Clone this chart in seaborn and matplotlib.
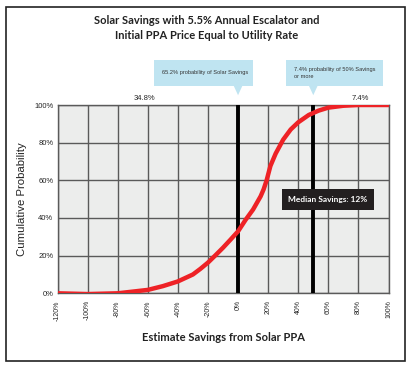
import matplotlib
matplotlib.use("Agg")
import matplotlib.pyplot as plt
import matplotlib.patches as mpatches
import seaborn as sns
import pandas as pd
import numpy as np

# values
savings = [-120, -100, -80, -70, -60, -50, -40, -30, -25, -20, -15, -10, -5, 0,
           5, 10, 15, 17, 19, 21.5, 25, 30, 35, 40, 47, 53.5, 60, 70, 80, 100]
cum_prob = [0, -0.4, 0, 0.9, 1.8, 3.8, 6.3, 10.0, 13.0, 16.3, 20.2, 24.2, 28.5, 32.9,
            39.0, 44.5, 51.5, 55.2, 60.0, 67.6, 74.2, 81.6, 87.0, 90.8, 94.7, 97.0,
            98.6, 99.6, 100, 100]
x_ticks = list(range(-120, 101, 20))
y_ticks = list(range(0, 101, 20))
marker_lines = [0, 50]
median_text = "Median Savings: 12%"
left_pct = "34.8%"
right_pct = "7.4%"
callout_1 = "65.2% probability of Solar Savings"
callout_2 = "7.4% probability of 50% Savings\nor more"

df = pd.DataFrame({"Savings": savings, "Probability": cum_prob})

sns.set_style("white")
plt.rcParams["font.family"] = ["Lato", "DejaVu Sans"]

fig = plt.figure(figsize=(4.13, 3.69), dpi=100)
fig.patches.append(mpatches.Rectangle((6 / 413, 1 - 361 / 369), 399 / 413, 354 / 369,
                                      transform=fig.transFigure, fill=False,
                                      edgecolor="#222222", linewidth=1.2))
ax = fig.add_axes([57.5 / 413, 1 - 293.3 / 369, 331 / 413, 188.3 / 369])
ax.set_facecolor("#ecedec")

sns.lineplot(data=df, x="Savings", y="Probability", ax=ax, color="#ee2226",
             linewidth=3.2, zorder=4, solid_joinstyle="round")
for xv in marker_lines:
    ax.axvline(xv, color="black", linewidth=2.8, zorder=3)

ax.set_xlim(-120, 100)
ax.set_ylim(0, 100)
ax.set_xticks(x_ticks)
ax.set_yticks(y_ticks)
ax.set_xticklabels([f"{v}%" for v in x_ticks], rotation=90, fontsize=5,
                   family=["Liberation Sans"])
ax.set_yticklabels([f"{v}%" for v in y_ticks], fontsize=5.5,
                   family=["Liberation Sans"])
ax.grid(True, color="#5a5a5a", linewidth=1.0)
for s in ax.spines.values():
    s.set_color("#5a5a5a")
    s.set_linewidth(1.0)
ax.tick_params(axis="x", length=3, width=0.8, color="#5a5a5a", pad=2)
ax.tick_params(axis="y", length=0, pad=3)
ax.set_axisbelow(True)

ax.set_xlabel("Estimate Savings from Solar PPA", fontsize=8, fontweight="bold",
              color="#222222", labelpad=8)
ax.set_ylabel("Cumulative Probability", fontsize=8.2, family=["Liberation Sans"],
              color="#222222", labelpad=5)

fig.text(0.5, 1 - 28 / 369, "Solar Savings with 5.5% Annual Escalator and\n"
         "Initial PPA Price Equal to Utility Rate", ha="center", va="center",
         fontsize=8, fontweight="bold", color="#222222", linespacing=1.35)

# percentage labels above the plot
ax.text(-62, 101.5, left_pct, ha="center", va="bottom", fontsize=5.5,
        family=["Liberation Sans"], clip_on=False)
ax.text(81, 101.5, right_pct, ha="center", va="bottom", fontsize=5.5,
        family=["Liberation Sans"], clip_on=False)

# callout boxes
box_color = "#bfe4f1"
for (x0, x1, tip, txt) in [(-55.8, 10, 0, callout_1), (31.9, 96.3, 50, callout_2)]:
    ax.add_patch(mpatches.Rectangle((x0, 110.3), x1 - x0, 13.4, facecolor=box_color,
                                    edgecolor="none", clip_on=False, zorder=5))
    ax.add_patch(mpatches.Polygon([(tip - 3, 110.4), (tip + 3, 110.4), (tip, 105.2)],
                                  facecolor=box_color, edgecolor="none",
                                  clip_on=False, zorder=5))
    ax.text(x0 + 5.5, 117.2, txt, ha="left", va="center", fontsize=4.1,
            family=["Liberation Sans"], color="#333333", zorder=6, clip_on=False,
            linespacing=1.45)

# median box
ax.text(59.8, 49.8, median_text, ha="center", va="center", fontsize=6,
        fontweight="bold", color="white", zorder=6,
        bbox=dict(boxstyle="square,pad=0.8", facecolor="#231f20", edgecolor="none"))

fig.savefig("out.png", dpi=100)
